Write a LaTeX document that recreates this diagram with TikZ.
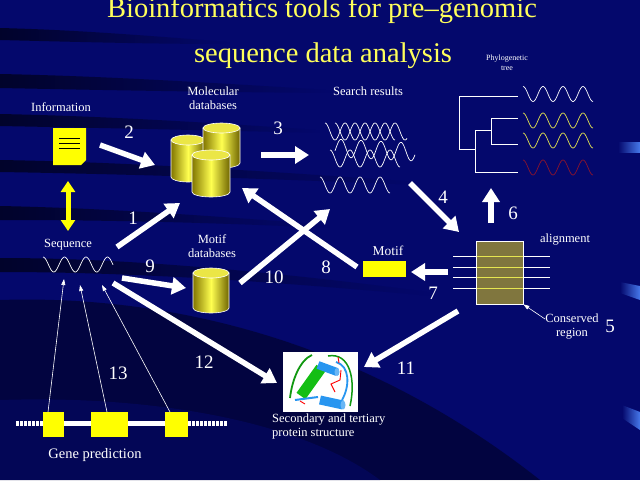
\documentclass[tikz,border=0pt]{standalone}
\usepackage{fontspec}
\setmainfont{Liberation Serif}
\usetikzlibrary{arrows.meta,fadings}
\definecolor{bg}{RGB}{4,8,108}
\definecolor{ttl}{RGB}{255,255,90}
\definecolor{yel}{RGB}{255,255,0}
\definecolor{cylD}{RGB}{130,118,0}
\definecolor{cylB}{RGB}{255,255,80}
\definecolor{cylT}{RGB}{235,230,70}
\definecolor{olv}{RGB}{128,118,62}
\definecolor{wred}{RGB}{140,20,45}
\definecolor{wyel}{RGB}{230,230,80}
\definecolor{pblue}{RGB}{40,150,240}
\definecolor{pgreen}{RGB}{20,190,20}
\newcommand\cylndr[4]{%
  \pgfmathsetmacro\crx{#2/2}%
  \path[draw=white, line width=0.6pt, left color=cylD, right color=cylD!85!black, middle color=cylB]
    (#1,#3) -- (#1,#3+#4) arc[start angle=180,end angle=0,x radius=\crx,y radius=5] -- (#1+#2,#3) -- cycle;
  \path[fill=cylT, draw=white, line width=0.6pt] (#1+\crx,#3) ellipse[x radius=\crx, y radius=5];
}
\begin{document}
\begin{tikzpicture}[x=1pt,y=-1pt,
  fat/.style={draw=white, line width=5.5pt, -{Triangle[length=14pt,width=17pt]}},
  thinarr/.style={draw=white, line width=0.6pt, -{Triangle[length=6pt,width=4pt]}},
  lbl/.style={text=white, font=\fontsize{12.5}{14}\selectfont, inner sep=0pt, align=center},
  num/.style={text=white, font=\fontsize{19}{20}\selectfont, inner sep=0pt},
  wave/.style={draw=white, line width=0.7pt},
  streak/.style={fill=black, opacity=0.6, path fading=east}]
\useasboundingbox (0,0) rectangle (640,480);
\fill[bg] (0,0) rectangle (640,480);
% background streaks
\fill[streak] (0,28) .. controls (80,30) and (150,36) .. (230,42) -- (230,44) .. controls (150,44) and (80,42) .. (0,40) -- cycle;
\fill[streak] (0,74) .. controls (100,76) and (200,82) .. (330,90) -- (330,93) .. controls (200,92) and (100,90) .. (0,88) -- cycle;
\fill[streak] (0,114) .. controls (100,116) and (200,122) .. (320,130) -- (320,133) .. controls (200,130) and (100,128) .. (0,126) -- cycle;
\fill[streak] (0,160) .. controls (120,162) and (250,170) .. (420,182) -- (420,185) .. controls (250,178) and (120,174) .. (0,172) -- cycle;
\fill[streak] (0,206) .. controls (100,208) and (200,215) .. (330,225) -- (330,228) .. controls (200,222) and (100,220) .. (0,220) -- cycle;
\fill[streak] (0,258) .. controls (120,258) and (260,270) .. (430,292) -- (430,296) .. controls (260,280) and (120,272) .. (0,272) -- cycle;
\fill[black, opacity=0.4] (0,300) .. controls (150,295) and (350,330) .. (540,480) -- (0,480) -- cycle;
\fill[bg, opacity=0.5] (0,400) .. controls (150,395) and (300,420) .. (380,480) -- (0,480) -- cycle;
% right edge light bars
\shade[left color=bg, right color={rgb,255:red,70;green,120;blue,235}] (618,142) rectangle (640,152);
\shade[left color=bg, right color={rgb,255:red,70;green,120;blue,235}] (620,282) -- (640,286) -- (640,300) -- (620,293) -- cycle;
\shade[left color=bg, right color={rgb,255:red,70;green,120;blue,235}] (622,405) -- (640,412) -- (640,430) -- (622,418) -- cycle;
% title
\node[text=ttl, font=\fontsize{28.5}{30}\selectfont, anchor=base, inner sep=0pt] (t1) at (322,17) {Bioinformatics tools for pre–genomic};
\node[text=ttl, font=\fontsize{28.5}{30}\selectfont, anchor=base, inner sep=0pt] (t2) at (323,62) {sequence data analysis};
% information
\node[lbl] (linfo) at (61,107) {Information};
\fill[yel] (53,128) -- (86,128) -- (86,160) -- (81,165) -- (53,165) -- cycle;
\foreach \yy in {138,143,148} \draw[black, line width=0.7pt] (59,\yy) -- (80,\yy);
\coordinate (infb) at (68,181);
\coordinate (seqt) at (68,231);
\draw[yel, line width=5pt, {Triangle[length=11pt,width=14pt]}-{Triangle[length=11pt,width=14pt]}] (infb) -- (seqt);
% sequence
\node[lbl] (lseq) at (68,245) {Sequence};
\draw[wave] plot[domain=0:70, samples=80] ({43+\x},{264.5-7.5*cos(\x/21.5*360)});
% molecular databases
\node[lbl] (lmol) at (213,98) {Molecular\\databases};
\cylndr{171}{34}{140}{37}
\cylndr{203}{37}{128}{35}
\cylndr{192}{38}{155}{37}
% motif databases
\node[lbl] (lmdb) at (212,246) {Motif\\databases};
\cylndr{193}{36}{273}{35}
% search results
\node[lbl] (lsr) at (368,91) {Search results};
\draw[wave] plot[domain=0:70, samples=80] ({325+\x},{131.5-8.5*cos(\x/20*360)});
\draw[wave] plot[domain=0:72, samples=80] ({335+\x},{131.5-8.5*cos(\x/20*360)});
\draw[wave] plot[domain=0:80, samples=90] ({335+\x},{148+\x*0.05-9*cos((\x-6)/20*360)});
\draw[wave] plot[domain=0:70, samples=80] ({330+\x},{158.5-8.5*cos(\x/20*360)});
\draw[wave] plot[domain=0:70, samples=80] ({320+\x},{185-8*cos(\x/20*360)});
% phylogenetic tree
\node[lbl, font=\fontsize{8}{10}\selectfont] (lphy) at (507,63) {Phylogenetic\\tree};
\draw[white, line width=0.9pt] (518,96) -- (459,96) -- (459,149) -- (475,149);
\draw[white, line width=0.9pt] (518,118) -- (491,118) -- (491,144) -- (518,144);
\draw[white, line width=0.9pt] (491,130) -- (475,130) -- (475,172) -- (518,172);
\draw[wave] plot[domain=0:70, samples=80] ({523+\x},{94-7.5*cos(\x/20*360)});
\draw[wave, draw=wyel] plot[domain=0:70, samples=80] ({523+\x},{120.5-7.5*cos(\x/20*360)});
\draw[wave, draw=wyel] plot[domain=0:70, samples=80] ({523+\x},{140.5-7.5*cos(\x/20*360)});
\draw[wave, draw=wred] plot[domain=0:70, samples=80] ({523+\x},{167.5-7.5*cos(\x/20*360)});
% alignment
\node[lbl] (lali) at (565,240) {alignment};
\node[fill=olv, draw=white, line width=0.8pt, minimum width=47pt, minimum height=63pt, inner sep=0pt] (ali) at (499.5,272.5) {};
\foreach \yy in {256,267,277,288} {
  \draw[white, line width=0.7pt] (453,\yy) -- (550,\yy);
  \draw[wyel, line width=0.7pt] (476.5,\yy) -- (522.5,\yy);
}
\node[lbl] (lcons) at (572,327) {Conserved\\region};
\node[num] (n5) at (610,326) {5};
\coordinate (c5) at (545,319);
\draw[thinarr] (c5) -- (ali.south east);
% motif
\node[lbl, font=\fontsize{13.5}{15}\selectfont] (lmot) at (388,251) {Motif};
\node[fill=yel, minimum width=43pt, minimum height=16pt, inner sep=0pt] (mot) at (384.5,269) {};
% protein structure
\node[fill=white, minimum width=75pt, minimum height=60pt, inner sep=0pt] (prot) at (320.5,382) {};
\draw[pgreen!80!black, line width=1.8pt] (290,398) .. controls (292,380) and (300,360) .. (312,355);
\draw[pgreen, line width=11pt] (301,396) -- (321,368);
\draw[pblue, line width=2pt] (295,400) -- (318,397);
\draw[pgreen!80!black, line width=1.5pt] (328,356) .. controls (350,352) and (356,380) .. (350,406);
\draw[pblue, line width=1.8pt] (336,362) .. controls (350,366) and (350,386) .. (342,400);
\draw[pblue, line width=8pt] (318,365) -- (337,372);
\fill[pblue!70!white] (337,372) ellipse[x radius=2.5, y radius=4];
\draw[pblue, line width=9pt] (320,400) -- (343,405);
\fill[pblue!70!white] (343,405) ellipse[x radius=2.5, y radius=4.5];
\draw[red, line width=0.9pt] (338,357) -- (339,363) (341,370) -- (340,380) -- (331,384) -- (335,392);
\draw[red, line width=0.9pt] (300,401) -- (305,404);
\node[lbl, align=left, anchor=north west] (lprot) at (272,414) {Secondary and tertiary\\protein structure};
% gene prediction
\draw[white, line width=5pt, dash pattern=on 2.5pt off 1.5pt] (16,423) -- (43,423);
\draw[white, line width=5pt] (43,423) -- (188,423);
\draw[white, line width=5pt, dash pattern=on 2.5pt off 1.5pt] (188,423) -- (228,423);
\node[fill=yel, minimum width=21pt, minimum height=25pt, inner sep=0pt] (g1) at (53.5,424.5) {};
\node[fill=yel, minimum width=37pt, minimum height=25pt, inner sep=0pt] (g2) at (109.5,424.5) {};
\node[fill=yel, minimum width=23pt, minimum height=25pt, inner sep=0pt] (g3) at (176.5,424.5) {};
\node[lbl, font=\fontsize{14.5}{16}\selectfont] (lgene) at (95,455) {Gene prediction};
\coordinate (s1) at (64,279);
\coordinate (s2) at (80,285);
\coordinate (s3) at (102,285);
\draw[thinarr] (48,412) coordinate (g1t) -- (s1);
\draw[thinarr] (107,412) coordinate (g2t) -- (s2);
\draw[thinarr] (170,412) coordinate (g3t) -- (s3);
% thick arrows
\coordinate (a1s) at (117,247); \coordinate (a1e) at (180,203);
\coordinate (a2s) at (100,145); \coordinate (a2e) at (155,165);
\coordinate (a3s) at (261,155); \coordinate (a3e) at (309,155);
\coordinate (a4s) at (410,183); \coordinate (a4e) at (459,232);
\coordinate (a6s) at (491,223); \coordinate (a6e) at (491,188);
\coordinate (a7s) at (448,272); \coordinate (a7e) at (411,272);
\coordinate (a8s) at (357,267); \coordinate (a8e) at (242,188);
\coordinate (a9s) at (122,278); \coordinate (a9e) at (186,288);
\coordinate (a10s) at (240,283); \coordinate (a10e) at (330,209);
\coordinate (a11s) at (458,311); \coordinate (a11e) at (364,367);
\coordinate (a12s) at (113,283); \coordinate (a12e) at (277,383);
\foreach \a in {1,2,3,4,6,7,8,9,10,11,12} \draw[fat] (a\a s) -- (a\a e);
% numbers
\node[num] (n1) at (133,218) {1};
\node[num] (n2) at (129,132) {2};
\node[num] (n3) at (278,128) {3};
\node[num] (n4) at (443,197) {4};
\node[num] (n6) at (513,213) {6};
\node[num] (n7) at (433,293) {7};
\node[num] (n8) at (326,267) {8};
\node[num] (n9) at (150,266) {9};
\node[num] (n10) at (274,277) {10};
\node[num] (n11) at (406,368) {11};
\node[num] (n12) at (204,362) {12};
\node[num] (n13) at (118,373) {13};
\end{tikzpicture}
\end{document}
